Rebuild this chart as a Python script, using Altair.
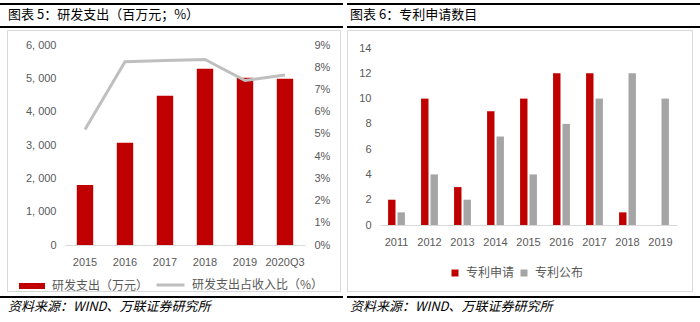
import altair as alt
import pandas as pd

# ---------------- data ----------------
years_l = ["2015", "2016", "2017", "2018", "2019", "2020Q3"]
rd_exp = [1800, 3070, 4480, 5290, 5020, 4990]
rd_ratio = [0.052, 0.0825, 0.083, 0.0835, 0.074, 0.0765]

years_r = ["2011", "2012", "2013", "2014", "2015", "2016", "2017", "2018", "2019"]
patent_apply = [2, 10, 3, 9, 10, 12, 12, 1, 0]
patent_pub = [1, 4, 2, 7, 4, 8, 10, 12, 10]

lab_bar = "研发支出（万元）"
lab_line = "研发支出占收入比（%）"
lab_apply = "专利申请"
lab_pub = "专利公布"
title_l = "图表 5：研发支出（百万元；%）"
title_r = "图表 6：专利申请数目"
source = "资料来源：WIND、万联证券研究所"

RED = "#C00000"
GRAY = "#A5A5A5"
LINEGRAY = "#BFBFBF"
TXT = "#595959"
CJK = "Noto Sans CJK SC"
LAT = "Liberation Sans"

df_l = pd.DataFrame({"year": years_l, "exp": rd_exp, "ratio": rd_ratio,
                     "s1": lab_bar, "s2": lab_line})
rows = []
for y, a, p in zip(years_r, patent_apply, patent_pub):
    rows.append({"year": y, "series": lab_apply, "v": a})
    rows.append({"year": y, "series": lab_pub, "v": p})
df_r = pd.DataFrame(rows)


def one(t=""):
    return pd.DataFrame({"t": [t]})


def decorations(ox, oy, x_left, x_right, box_l, box_r, box_b, title, tx):
    # thick black rules, frame box, title and source text (pixel offsets from plot origin)
    top = alt.Chart(one()).mark_rect(color="black").encode(
        x=alt.value(x_left - ox), x2=alt.value(x_right - ox),
        y=alt.value(4 - oy), y2=alt.value(6 - oy))
    mid = alt.Chart(one()).mark_rect(color="black").encode(
        x=alt.value(x_left - ox), x2=alt.value(x_right - ox),
        y=alt.value(27 - oy), y2=alt.value(29 - oy))
    bot = alt.Chart(one()).mark_rect(color="black").encode(
        x=alt.value(x_left - ox), x2=alt.value(x_right - ox),
        y=alt.value(297 - oy), y2=alt.value(299 - oy))
    box = alt.Chart(one()).mark_rect(fill="white", fillOpacity=0, stroke="#D9D9D9",
                                     strokeWidth=1).encode(
        x=alt.value(box_l - ox), x2=alt.value(box_r - ox),
        y=alt.value(31.5 - oy), y2=alt.value(box_b - oy))
    ttl = alt.Chart(one(title)).mark_text(
        align="left", baseline="middle", font=CJK, fontSize=13, color="black").encode(
        x=alt.value(tx - ox), y=alt.value(16 - oy), text="t:N")
    src = alt.Chart(one(source)).mark_text(
        align="left", baseline="middle", font=CJK, fontSize=13, fontStyle="italic",
        color="black").encode(
        x=alt.value(tx - ox), y=alt.value(308 - oy), text="t:N")
    return [box, top, mid, bot, ttl, src]


# ---------------- left panel ----------------
OX1, OY1, W1, H1 = 65, 46, 240, 200
xl = alt.X("year:N", sort=years_l, title=None,
           scale=alt.Scale(paddingInner=0.59, paddingOuter=0.295),
           axis=alt.Axis(labelAngle=0, ticks=False, domainColor="#D9D9D9",
                         labelFont=LAT, labelFontSize=11, labelColor=TXT, labelPadding=11))

bars_l = alt.Chart(df_l).mark_bar().encode(
    x=xl,
    y=alt.Y("exp:Q", title=None,
            scale=alt.Scale(domain=[0, 6000]),
            axis=alt.Axis(values=[0, 1000, 2000, 3000, 4000, 5000, 6000], grid=False,
                          ticks=False, domain=False, labelFont=LAT, labelFontSize=11,
                          labelColor=TXT, labelPadding=9,
                          labelExpr="replace(format(datum.value, ','), ',', ', ')")),
    fill=alt.Fill("s1:N", scale=alt.Scale(domain=[lab_bar], range=[RED]),
                  legend=alt.Legend(title=None, orient="none", legendX=-47, legendY=227,
                                    symbolType="M-1,-0.23H1V0.23H-1Z", symbolSize=676,
                                    labelFont=CJK, labelFontSize=12, labelColor=TXT,
                                    labelOffset=6, padding=0)),
)

line_l = alt.Chart(df_l).mark_line(strokeWidth=3).encode(
    x=xl,
    y=alt.Y("ratio:Q", title=None,
            scale=alt.Scale(domain=[0, 0.09]),
            axis=alt.Axis(orient="right", format=".0%",
                          values=[0, 0.01, 0.02, 0.03, 0.04, 0.05, 0.06, 0.07, 0.08, 0.09],
                          grid=False, ticks=False, domain=False, labelFont=LAT,
                          labelFontSize=11, labelColor=TXT, labelPadding=9)),
    stroke=alt.Stroke("s2:N", scale=alt.Scale(domain=[lab_line], range=[LINEGRAY]),
                      legend=alt.Legend(title=None, orient="none", legendX=90, legendY=224.5,
                                        symbolType="stroke", symbolSize=784,
                                        symbolStrokeWidth=3,
                                        labelFont=CJK, labelFontSize=12, labelColor=TXT,
                                        labelOffset=6, padding=0)),
)

left = alt.layer(
    *decorations(OX1, OY1, 0, 343, 7.5, 340.5, 292.5, title_l, 8),
    bars_l, line_l
).resolve_scale(y="independent").properties(width=W1, height=H1)

# ---------------- right panel ----------------
# plot origin shares the left panel's top (46); the 14 tick sits 3px lower
OX2, OY2, W2, H2 = 380, 46, 297, 180
bars_r = alt.Chart(df_r).mark_bar().encode(
    x=alt.X("year:N", sort=years_r, title=None,
            scale=alt.Scale(paddingInner=0.49, paddingOuter=0.245),
            axis=alt.Axis(labelAngle=0, ticks=False, domainColor="#D9D9D9",
                          labelFont=LAT, labelFontSize=11, labelColor=TXT, labelPadding=11)),
    xOffset=alt.XOffset("series:N", sort=[lab_apply, lab_pub],
                        scale=alt.Scale(paddingInner=0.215, paddingOuter=0)),
    y=alt.Y("v:Q", title=None, scale=alt.Scale(domain=[0, 14.24], nice=False),
            axis=alt.Axis(values=[0, 2, 4, 6, 8, 10, 12, 14], grid=False, ticks=False,
                          domain=False, labelFont=LAT, labelFontSize=11,
                          labelColor=TXT, labelPadding=9)),
    color=alt.Color("series:N", sort=[lab_apply, lab_pub],
                    scale=alt.Scale(domain=[lab_apply, lab_pub], range=[RED, GRAY]),
                    legend=alt.Legend(title=None, orient="none", legendX=69, legendY=222,
                                      direction="horizontal", symbolType="square",
                                      symbolSize=49, labelFont=CJK, labelFontSize=12,
                                      labelColor=TXT, labelOffset=5, columnPadding=3,
                                      padding=0)),
)

right = alt.layer(
    *decorations(OX2, OY2, 347, 700, 347.5, 692.5, 292.5, title_r, 350),
    bars_r
).properties(width=W2, height=H2)

chart = alt.hconcat(left, right, spacing=4).resolve_legend(
    color="independent", fill="independent", stroke="independent"
).resolve_scale(
    color="independent", fill="independent", stroke="independent"
).properties(
    padding={"left": 0, "top": 3, "right": 0, "bottom": 0}
).configure_view(strokeWidth=0)

chart.save("out.html", embed_options={"renderer": "svg", "actions": False})
